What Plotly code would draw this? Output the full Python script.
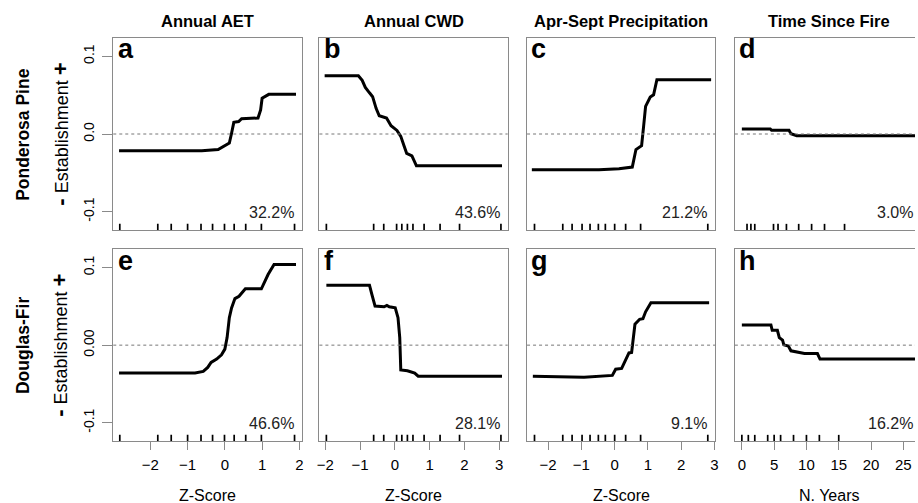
import plotly.graph_objects as go

# ---------------- data ----------------
col_titles = ["Annual AET", "Annual CWD", "Apr-Sept Precipitation", "Time Since Fire"]
row_titles = ["Ponderosa Pine", "Douglas-Fir"]
panel_letters = ["a", "b", "c", "d", "e", "f", "g", "h"]
panel_pcts = ["32.2%", "43.6%", "21.2%", "3.0%", "46.6%", "28.1%", "9.1%", "16.2%"]
x_titles = ["Z-Score", "Z-Score", "Z-Score", "N. Years"]

# partial dependence curves
a_x = [-2.84, -0.62, -0.18, -0.02, 0.12, 0.18, 0.24, 0.37, 0.45, 0.89, 0.96, 1.00, 1.09, 1.18, 1.91]
a_y = [-0.0215, -0.0215, -0.020, -0.016, -0.0116, 0.001, 0.015, 0.016, 0.0197, 0.0206, 0.031, 0.046, 0.048, 0.051, 0.051]

b_x = [-2.02, -1.05, -0.94, -0.85, -0.73, -0.64, -0.54, -0.45, -0.24, -0.11, 0.06, 0.17, 0.27, 0.34, 0.49, 0.62, 3.08]
b_y = [0.075, 0.075, 0.069, 0.060, 0.053, 0.048, 0.033, 0.0235, 0.0206, 0.0107, 0.0046, -0.003, -0.016, -0.025, -0.028, -0.041, -0.041]

c_x = [-2.49, -0.47, 0.13, 0.53, 0.64, 0.81, 0.87, 0.93, 1.07, 1.17, 1.27, 2.90]
c_y = [-0.0459, -0.046, -0.0446, -0.0425, -0.020, -0.015, 0.0098, 0.0355, 0.0475, 0.0505, 0.0698, 0.0698]

d_x = [0.0, 4.4, 4.6, 7.3, 7.6, 8.5, 27.0]
d_y = [0.0064, 0.0064, 0.0047, 0.0047, 0.0004, -0.0022, -0.0022]

e_x = [-2.84, -0.80, -0.58, -0.46, -0.37, -0.22, -0.09, 0.00, 0.06, 0.12, 0.18, 0.27, 0.38, 0.55, 0.98, 1.07, 1.16, 1.32, 1.91]
e_y = [-0.0359, -0.0359, -0.0338, -0.0287, -0.0223, -0.018, -0.0124, -0.0051, 0.0097, 0.0354, 0.048, 0.060, 0.063, 0.0726, 0.0726, 0.083, 0.091, 0.104, 0.104]

f_x = [-1.97, -0.73, -0.66, -0.57, -0.31, -0.23, -0.16, 0.01, 0.09, 0.14, 0.17, 0.36, 0.57, 0.67, 3.08]
f_y = [0.0773, 0.0773, 0.065, 0.0504, 0.0495, 0.0513, 0.0495, 0.048, 0.0354, 0.0097, -0.032, -0.033, -0.036, -0.040, -0.040]

g_x = [-2.46, -0.92, -0.07, 0.03, 0.21, 0.33, 0.43, 0.51, 0.56, 0.61, 0.75, 0.85, 0.93, 1.00, 1.09, 2.84]
g_y = [-0.040, -0.0415, -0.039, -0.031, -0.030, -0.019, -0.010, -0.0095, 0.0097, 0.0269, 0.0333, 0.034, 0.043, 0.048, 0.0546, 0.0546]

h_x = [0.0, 4.5, 4.7, 5.5, 5.8, 6.3, 6.5, 7.2, 7.6, 8.7, 9.7, 11.7, 12.1, 27.0]
h_y = [0.026, 0.026, 0.0192, 0.0192, 0.0097, 0.0064, 0.0004, -0.001, -0.0073, -0.0095, -0.0108, -0.0108, -0.018, -0.018]

# rug (deciles of predictors)
rug_aet = [-2.82, -1.80, -1.44, -1.00, -0.64, -0.33, -0.01, 0.25, 0.56, 0.98, 1.87]
rug_cwd = [-1.97, -0.61, -0.32, 0.05, 0.20, 0.36, 0.52, 0.84, 1.30, 1.86, 3.05]
rug_ppt = [-2.41, -1.56, -1.28, -0.98, -0.74, -0.49, -0.28, 0.00, 0.33, 0.78, 2.80]
rug_tsf_pp = [0.8, 1.4, 2.0, 4.9, 5.6, 6.9, 8.8, 10.8, 12.8, 15.9]
rug_tsf_df = [0, 1, 2, 4, 5, 6, 8, 10, 12, 15]

y_tickvals = [-0.1, 0.0, 0.1]
y_ticktext_top = ["-0.1", "0.0", "0.1"]
y_ticktext_bot = ["-0.1", "0.00", "0.1"]
x_ticks_aet = [-2, -1, 0, 1, 2]
x_ticks_cwd = [-2, -1, 0, 1, 2, 3]
x_ticks_ppt = [-2, -1, 0, 1, 2, 3]
x_ticks_tsf = [0, 5, 10, 15, 20, 25]

curves = [(a_x, a_y), (b_x, b_y), (c_x, c_y), (d_x, d_y),
          (e_x, e_y), (f_x, f_y), (g_x, g_y), (h_x, h_y)]
rugs = [rug_aet, rug_cwd, rug_ppt, rug_tsf_pp, rug_aet, rug_cwd, rug_ppt, rug_tsf_df]
xticks = [x_ticks_aet, x_ticks_cwd, x_ticks_ppt, x_ticks_tsf]

# ---------------- layout geometry ----------------
W, H = 918, 503
FONT = "Liberation Sans, Arial, Helvetica, sans-serif"
GRAY = "#8a8a8a"
col_left = [111, 318.5, 527.5, 736.7]
col_w = 189.5
row_top = [38, 249.3]
row_bot = [230, 441]
x_ranges = [[-2.995, 2.058], [-2.17, 3.244], [-2.634, 3.026], [-1.08, 26.81]]
y_range = [-0.1235, 0.1235]

fig = go.Figure()
layout = dict(width=W, height=H, margin=dict(l=0, r=0, t=0, b=0),
              paper_bgcolor="white", plot_bgcolor="white", showlegend=False,
              font=dict(family=FONT, color="black", size=13))
shapes = []
annotations = []

for i in range(8):
    r, c = divmod(i, 4)
    n = i + 1
    xa = "x" if n == 1 else f"x{n}"
    ya = "y" if n == 1 else f"y{n}"
    xk = "xaxis" if n == 1 else f"xaxis{n}"
    yk = "yaxis" if n == 1 else f"yaxis{n}"
    x0 = col_left[c] / W
    x1 = min(1.0, (col_left[c] + col_w) / W)
    yd = [1 - row_bot[r] / H, 1 - row_top[r] / H]

    cx, cy = curves[i]
    fig.add_trace(go.Scatter(x=cx, y=cy, mode="lines", xaxis=xa, yaxis=ya,
                             line=dict(color="black", width=3), hoverinfo="skip"))

    xaxis = dict(domain=[x0, x1], range=x_ranges[c], anchor=ya, showgrid=False,
                 zeroline=False, showline=True, linecolor=GRAY, linewidth=1,
                 mirror=True)
    if r == 1:
        xaxis.update(tickmode="array", tickvals=xticks[c], ticks="outside",
                     ticklen=8, tickcolor=GRAY, tickwidth=1,
                     tickfont=dict(size=15, family=FONT), ticklabelstandoff=2)
    else:
        xaxis.update(showticklabels=False, ticks="")
    yaxis = dict(domain=yd, range=y_range, anchor=xa, showgrid=False,
                 zeroline=False, showline=True, linecolor=GRAY, linewidth=1,
                 mirror=(c != 3))
    if c == 0:
        yaxis.update(tickmode="array", tickvals=y_tickvals,
                     ticktext=y_ticktext_top if r == 0 else y_ticktext_bot,
                     ticks="outside", ticklen=10, tickcolor=GRAY, tickwidth=1,
                     tickangle=-90, tickfont=dict(size=14, family=FONT),
                     ticklabelstandoff=3)
    else:
        yaxis.update(showticklabels=False, ticks="")
    layout[xk] = xaxis
    layout[yk] = yaxis

    # zero dotted line
    shapes.append(dict(type="line", xref=f"{xa} domain", yref=ya, x0=0, x1=1,
                       y0=0, y1=0, line=dict(color="#777777", width=1, dash="dot")))
    # rug
    for v in rugs[i]:
        if x_ranges[c][0] <= v <= x_ranges[c][1]:
            shapes.append(dict(type="line", xref=xa, yref=f"{ya} domain", x0=v, x1=v,
                               y0=0, y1=0.032, line=dict(color="black", width=1.7)))
    # panel letter
    annotations.append(dict(text=f"<b>{panel_letters[i]}</b>", xref=f"{xa} domain",
                            yref=f"{ya} domain", x=0.012, y=1.03, xanchor="left",
                            yanchor="top", showarrow=False,
                            font=dict(size=27, family=FONT, color="black")))
    # percent
    annotations.append(dict(text=panel_pcts[i], xref=f"{xa} domain",
                            yref=f"{ya} domain", x=1 - 6 / col_w if c != 3 else 1.0,
                            y=18 / 192, xanchor="right", yanchor="middle",
                            showarrow=False, font=dict(size=16, family=FONT, color="#222222")))

# column titles
for c in range(4):
    annotations.append(dict(text=f"<b>{col_titles[c]}</b>", xref="paper", yref="paper",
                            x=(col_left[c] + col_w / 2) / W, y=1 - 21 / H,
                            xanchor="center", yanchor="middle", showarrow=False,
                            font=dict(size=16.5, family=FONT, color="black")))
    annotations.append(dict(text=x_titles[c], xref="paper", yref="paper",
                            x=(col_left[c] + col_w / 2) / W, y=1 - 495 / H,
                            xanchor="center", yanchor="middle", showarrow=False,
                            font=dict(size=16, family=FONT, color="black")))

# row titles
for r in range(2):
    yc = 1 - (row_top[r] + row_bot[r]) / 2 / H
    annotations.append(dict(text=f"<b>{row_titles[r]}</b>", xref="paper", yref="paper",
                            x=20 / W, y=yc, xanchor="center", yanchor="middle",
                            textangle=-90, showarrow=False,
                            font=dict(size=17.5, family=FONT, color="black")))
    annotations.append(dict(text="<b><span style='font-size:22px'>-</span></b> Establishment <b><span style='font-size:22px'>+</span></b>",
                            xref="paper", yref="paper", x=57 / W, y=yc,
                            xanchor="center", yanchor="middle", textangle=-90,
                            showarrow=False,
                            font=dict(size=18, family=FONT, color="black")))

layout["shapes"] = shapes
layout["annotations"] = annotations
fig.update_layout(**layout)
fig.write_html("out.html")
